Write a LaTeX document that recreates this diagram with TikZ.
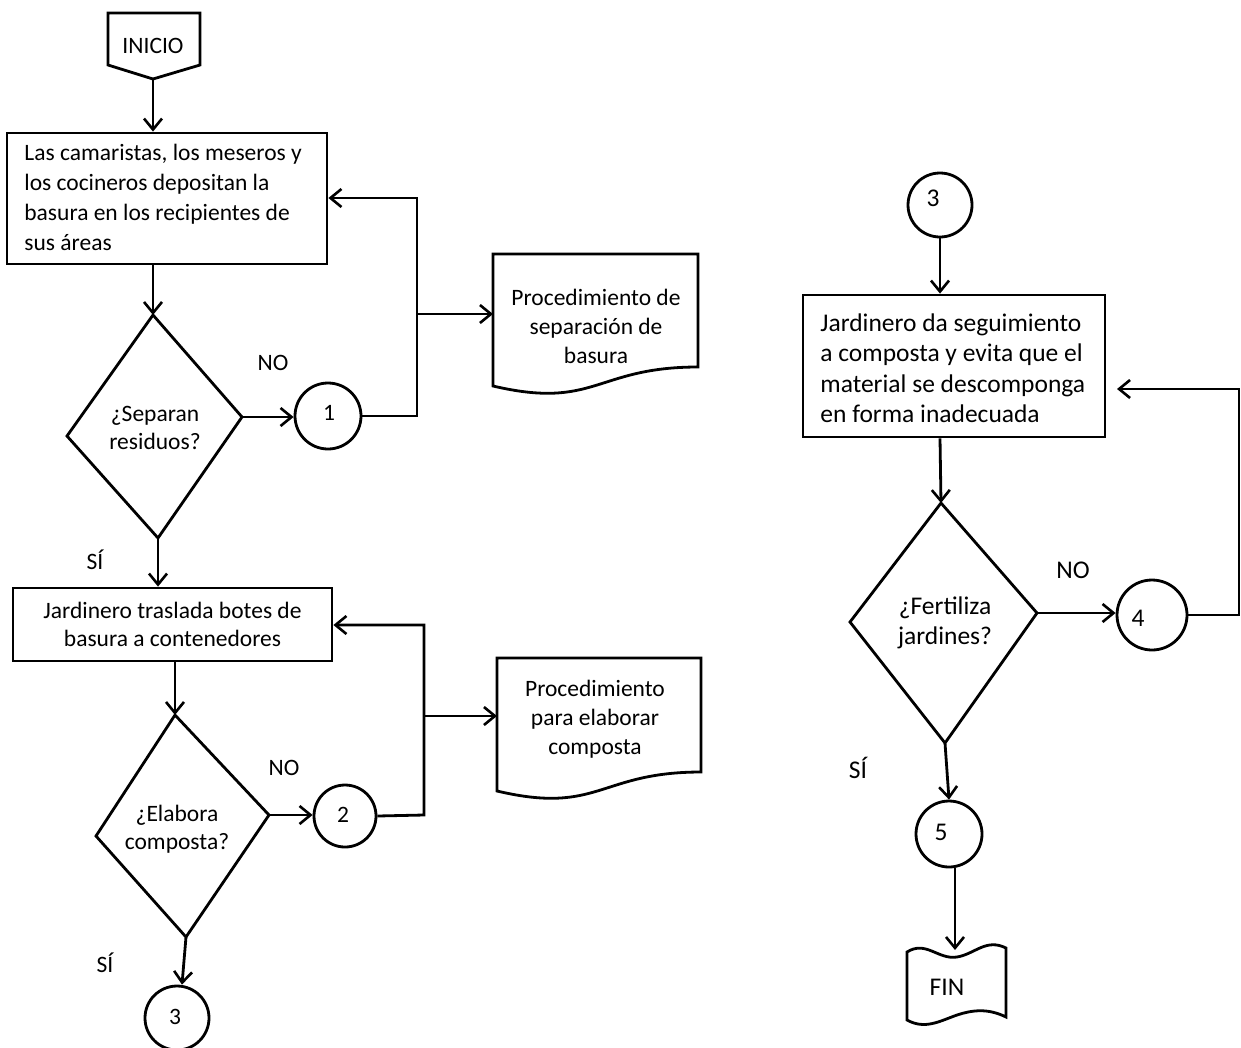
\documentclass[tikz,border=0pt]{standalone}
\usepackage{fontspec}
\setmainfont{Carlito}
\usetikzlibrary{arrows.meta}
\begin{document}
\begin{tikzpicture}[x=1pt,y=-1pt,line width=2.8pt,line join=miter,
  arr/.style={-{Straight Barb[length=11pt,width=18pt,line width=2.6pt]}},
  txt/.style={font=\fontsize{23.5}{30}\selectfont,inner sep=0pt,align=center},
  txtr/.style={font=\fontsize{25.5}{30.5}\selectfont,inner sep=0pt,align=center},
  box/.style={draw,rectangle,inner sep=0pt,font=\fontsize{23.5}{28.5}\selectfont,align=center},
  conn/.style={draw,circle,inner sep=0pt,minimum size=65pt}]
\useasboundingbox[fill=white] (0,0) rectangle (1241,1047);

% INICIO
\coordinate (iniP) at (153,79);
\draw (108,13) -- (200,13) -- (200,65) -- (iniP) -- (108,65) -- cycle;
\node[txt] (ini) at (153,46) {INICIO};

% Box 1
\node[box,minimum width=320pt,minimum height=131pt] (b1) at (167,198.5) {};
\node[txt,anchor=west,align=left] (b1t) at (23,197) {Las camaristas, los meseros y\\los cocineros depositan la\\basura en los recipientes de\\sus áreas};
\draw[arr] (iniP) -- (iniP |- b1.north);

% Decision 1
\coordinate (d1n) at (153,315);
\coordinate (d1e) at (242,417);
\coordinate (d1s) at (158,538);
\coordinate (d1w) at (67,436);
\draw (d1n) -- (d1e) -- (d1s) -- (d1w) -- cycle;
\node[txt,font=\fontsize{23.5}{28}\selectfont] (d1t) at (155,428) {¿Separan\\residuos?};
\draw[arr] (b1.south -| d1n) -- (d1n);

\node[conn,minimum size=66pt] (c1) at (328,416) {};
\node[txt] (c1t) at (329,413) {1};
\draw[arr] (d1e) -- (d1e -| c1.west);
\node[txt] (no1) at (273,363) {NO};

\coordinate (j1a) at (417,416);
\coordinate (j1b) at (417,198);
\coordinate (j1m) at (417,314);
\coordinate (doc1w) at (493,314);
\draw[arr] (c1.east) -- (j1a) -- (j1b) -- (j1b -| b1.east);
\draw[arr] (j1m) -- (doc1w);

% Document 1
\draw (493,254) -- (698,254) -- (698,367) .. controls (595.5,367) and (595.5,410) .. (493,386) -- cycle;
\node[txt,font=\fontsize{23.5}{29}\selectfont] (doc1) at (596,326) {Procedimiento de\\separación de\\basura};

% Box 2
\node[txt] (si1) at (95,560) {SÍ};
\node[box,minimum width=319pt,minimum height=73pt] (b2) at (172.5,624.5) {Jardinero traslada botes de\\basura a contenedores};
\draw[arr] (d1s) -- (d1s |- b2.north);

% Decision 2
\coordinate (d2n) at (175,715);
\coordinate (d2e) at (269,815);
\coordinate (d2s) at (186,937);
\coordinate (d2w) at (96,836);
\draw (d2n) -- (d2e) -- (d2s) -- (d2w) -- cycle;
\node[txt,font=\fontsize{23.5}{28}\selectfont] (d2t) at (177,829) {¿Elabora\\composta?};
\draw[arr] (b2.south -| d2n) -- (d2n);

\node[conn,minimum size=62pt] (c2) at (345,816) {};
\node[txt] (c2t) at (343,815) {2};
\draw[arr] (d2e) -- (d2e -| c2.west);
\node[txt] (no2) at (284,768) {NO};

\coordinate (j2a) at (424,815);
\coordinate (j2b) at (424,625);
\coordinate (j2m) at (424,716);
\coordinate (doc2w) at (497,716);
\draw[arr] (c2.east) -- (j2a) -- (j2b) -- (j2b -| b2.east);
\draw[arr] (j2m) -- (doc2w);

% Document 2
\draw (497,658) -- (701,658) -- (701,772) .. controls (599,772) and (599,815) .. (497,791) -- cycle;
\node[txt,font=\fontsize{23.5}{29}\selectfont] (doc2) at (595,719) {Procedimiento\\para elaborar\\composta};

% Connector 3 (bottom)
\node[txt] (si2) at (105,963) {SÍ};
\node[conn,minimum size=64pt] (c3) at (177,1018) {};
\node[txt] (c3t) at (175,1017) {3};
\draw[arr] (d2s) -- ([xshift=5pt]c3.north);

% Right column
\node[conn,minimum size=64pt] (c3r) at (940,205) {};
\node[txtr] (c3rt) at (933,198) {3};
\node[box,minimum width=302pt,minimum height=142pt] (b3) at (954,366) {};
\node[txtr,anchor=west,align=left] (b3t) at (819,368) {Jardinero da seguimiento\\a composta y evita que el\\material se descomponga\\en forma inadecuada};
\draw[arr] (c3r.south) -- (c3r.south |- b3.north);

\coordinate (d3n) at (941,503);
\coordinate (d3e) at (1037,613);
\coordinate (d3s) at (945,743);
\coordinate (d3w) at (850,622);
\draw (d3n) -- (d3e) -- (d3s) -- (d3w) -- cycle;
\node[txtr] (d3t) at (945,623) {¿Fertiliza\\jardines?};
\draw[arr] (b3.south -| c3r) -- (d3n);

\node[conn,minimum size=70pt] (c4) at (1152,615) {};
\node[txtr] (c4t) at (1138,618) {4};
\draw[arr] (d3e) -- (d3e -| c4.west);
\node[txtr] (no3) at (1073,570) {NO};

\coordinate (j4a) at (1239,615);
\coordinate (j4b) at (1239,389);
\coordinate (b3in) at (1117,389);
\draw[arr] (c4.east) -- (j4a) -- (j4b) -- (b3in);

\node[txtr] (si3) at (858,768) {SÍ};
\node[conn,minimum size=66pt] (c5) at (949,834) {};
\node[txtr] (c5t) at (941,832) {5};
\draw[arr] (d3s) -- (c5.north);

% FIN
\coordinate (finN) at (955,950);
\draw (907,952) .. controls (926,940) and (938,960) .. (957,957) .. controls (975,954) and (986,938) .. (1006,948) -- (1006,1017) .. controls (988,1008) and (972,1010) .. (957,1015) .. controls (940,1021) and (925,1030) .. (907,1020) -- cycle;
\node[txtr] (fin) at (947,987) {FIN};
\draw[arr] ([xshift=6pt]c5.south) -- (finN);
\end{tikzpicture}
\end{document}
